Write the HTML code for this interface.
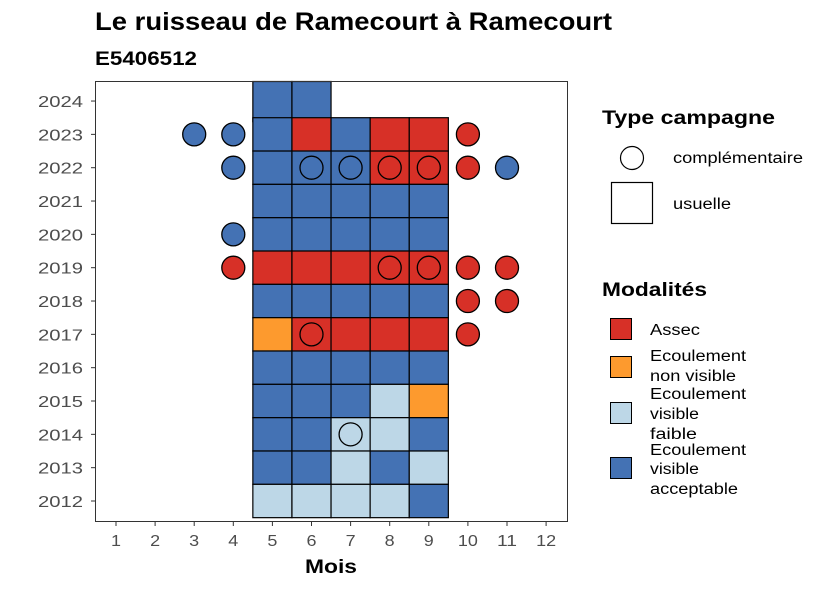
<!DOCTYPE html>
<html><head><meta charset="utf-8"><style>
body{margin:0;background:#fff;font-family:"Liberation Sans",Arial,sans-serif}
svg text{font-family:"Liberation Sans",Arial,sans-serif}
</style></head><body>
<svg id="c" width="826" height="590" xmlns="http://www.w3.org/2000/svg">
<text x="95" y="30" font-size="25" font-weight="bold" fill="#000" textLength="517" lengthAdjust="spacingAndGlyphs">Le ruisseau de Ramecourt à Ramecourt</text>
<text x="95" y="65" font-size="19" font-weight="bold" fill="#000" textLength="102" lengthAdjust="spacingAndGlyphs">E5406512</text>
<g id="tiles"></g>
<g id="pts"></g>
<rect x="95.5" y="81.5" width="472" height="440" fill="none" stroke="#333" stroke-width="1"/>
<g id="axes"></g>
<text x="305" y="573" font-size="19" font-weight="bold" textLength="52" lengthAdjust="spacingAndGlyphs">Mois</text>
<g>
<text x="602" y="124" font-size="19" font-weight="bold" textLength="173" lengthAdjust="spacingAndGlyphs">Type campagne</text>
<circle cx="632" cy="158" r="11.5" fill="#fff" stroke="#000" stroke-width="1.2"/>
<text x="673" y="163" font-size="15.5" textLength="130" lengthAdjust="spacingAndGlyphs">complémentaire</text>
<rect x="611.5" y="182.5" width="41" height="41" fill="#fff" stroke="#000" stroke-width="1.2"/>
<text x="673" y="209" font-size="15.5" textLength="58" lengthAdjust="spacingAndGlyphs">usuelle</text>
</g>
<g>
<text x="602" y="296" font-size="19" font-weight="bold" textLength="105" lengthAdjust="spacingAndGlyphs">Modalités</text>
<rect x="610.5" y="318.5" width="21" height="21" fill="#D73027" stroke="#000"/>
<text x="650" y="335" font-size="15.5" textLength="50" lengthAdjust="spacingAndGlyphs">Assec</text>
<rect x="610.5" y="356.5" width="21" height="21" fill="#FD9A2E" stroke="#000"/>
<text x="650" y="361" font-size="15.5" textLength="96" lengthAdjust="spacingAndGlyphs">Ecoulement</text><text x="650" y="381" font-size="15.5" textLength="86" lengthAdjust="spacingAndGlyphs">non visible</text>
<rect x="610.5" y="402.5" width="21" height="21" fill="#BDD7E7" stroke="#000"/>
<text x="650" y="399" font-size="15.5" textLength="96" lengthAdjust="spacingAndGlyphs">Ecoulement</text><text x="650" y="419" font-size="15.5" textLength="49" lengthAdjust="spacingAndGlyphs">visible</text><text x="650" y="439" font-size="15.5" textLength="47" lengthAdjust="spacingAndGlyphs">faible</text>
<rect x="610.5" y="457.5" width="21" height="21" fill="#4472B4" stroke="#000"/>
<text x="650" y="455" font-size="15.5" textLength="96" lengthAdjust="spacingAndGlyphs">Ecoulement</text><text x="650" y="474" font-size="15.5" textLength="49" lengthAdjust="spacingAndGlyphs">visible</text><text x="650" y="494" font-size="15.5" textLength="88" lengthAdjust="spacingAndGlyphs">acceptable</text>
</g>
</svg>
<script>
const months=[1,2,3,4,5,6,7,8,9,10,11,12];
const years=[2012,2013,2014,2015,2016,2017,2018,2019,2020,2021,2022,2023,2024];
const tileYears=[2024,2024,2023,2023,2023,2023,2023,2022,2022,2022,2022,2022,2021,2021,2021,2021,2021,2020,2020,2020,2020,2020,2019,2019,2019,2019,2019,2018,2018,2018,2018,2018,2017,2017,2017,2017,2017,2016,2016,2016,2016,2016,2015,2015,2015,2015,2015,2014,2014,2014,2014,2014,2013,2013,2013,2013,2013,2012,2012,2012,2012,2012];
const tileMonths=[5,6,5,6,7,8,9,5,6,7,8,9,5,6,7,8,9,5,6,7,8,9,5,6,7,8,9,5,6,7,8,9,5,6,7,8,9,5,6,7,8,9,5,6,7,8,9,5,6,7,8,9,5,6,7,8,9,5,6,7,8,9];
const tileMods=["A","A","A","R","A","R","R","A","A","A","R","R","A","A","A","A","A","A","A","A","A","A","R","R","R","R","R","A","A","A","A","A","N","R","R","R","R","A","A","A","A","A","A","A","A","F","N","A","A","F","F","A","A","A","F","A","F","F","F","F","F","A"];
const ptYears=[2023,2023,2023,2022,2022,2022,2022,2022,2022,2022,2020,2019,2019,2019,2019,2019,2018,2018,2017,2017,2014];
const ptMonths=[3,4,10,4,6,7,8,9,10,11,4,4,8,9,10,11,10,11,6,10,7];
const ptMods=["A","A","R","A","A","A","R","R","R","A","A","R","R","R","R","R","R","R","R","R","F"];
const colors={R:"#D73027",N:"#FD9A2E",F:"#BDD7E7",A:"#4472B4"};
const NS="http://www.w3.org/2000/svg";
const x=m=>116+(m-1)*39.1;
const y=yr=>501-(yr-2012)*33.33;
const tw=39.1,th=33.33;
const tg=document.getElementById('tiles');
for(let i=0;i<tileYears.length;i++){
  const r=document.createElementNS(NS,'rect');
  let top=y(tileYears[i])-th/2, h=th;
  if(tileYears[i]===2024){top=81.5;h=y(2024)+th/2+4-81.5;}
  r.setAttribute('x',x(tileMonths[i])-tw/2);r.setAttribute('y',top);
  r.setAttribute('width',tw);r.setAttribute('height',h);
  r.setAttribute('fill',colors[tileMods[i]]);r.setAttribute('stroke','#000');r.setAttribute('stroke-width','1.2');
  
  
  tg.appendChild(r);
}
const pg=document.getElementById('pts');
for(let i=0;i<ptYears.length;i++){
  const c=document.createElementNS(NS,'circle');
  c.setAttribute('cx',x(ptMonths[i]));c.setAttribute('cy',y(ptYears[i]));c.setAttribute('r',11.5);
  c.setAttribute('fill',colors[ptMods[i]]);c.setAttribute('stroke','#000');c.setAttribute('stroke-width','1.3');
  
  
  pg.appendChild(c);
}
const ag=document.getElementById('axes');
months.forEach(m=>{
  const l=document.createElementNS(NS,'line');
  l.setAttribute('x1',x(m));l.setAttribute('x2',x(m));l.setAttribute('y1',522);l.setAttribute('y2',526);l.setAttribute('stroke','#333');
  
  
  ag.appendChild(l);
  const t=document.createElementNS(NS,'text');
  const w=String(m).length>1?20:10;
  t.setAttribute('x',x(m)-w/2);t.setAttribute('y',546);t.setAttribute('font-size','16');t.setAttribute('fill','#4d4d4d');
  t.setAttribute('textLength',w);t.setAttribute('lengthAdjust','spacingAndGlyphs');
  t.textContent=m;
  
  
  ag.appendChild(t);
});
years.forEach(yr=>{
  const l=document.createElementNS(NS,'line');
  l.setAttribute('x1',91);l.setAttribute('x2',95);l.setAttribute('y1',y(yr));l.setAttribute('y2',y(yr));l.setAttribute('stroke','#333');
  
  
  ag.appendChild(l);
  const t=document.createElementNS(NS,'text');
  t.setAttribute('x',38);t.setAttribute('y',y(yr)+6);t.setAttribute('font-size','16');t.setAttribute('fill','#4d4d4d');
  t.setAttribute('textLength',45);t.setAttribute('lengthAdjust','spacingAndGlyphs');
  t.textContent=yr;
  
  
  ag.appendChild(t);
});
</script>
</body></html>
